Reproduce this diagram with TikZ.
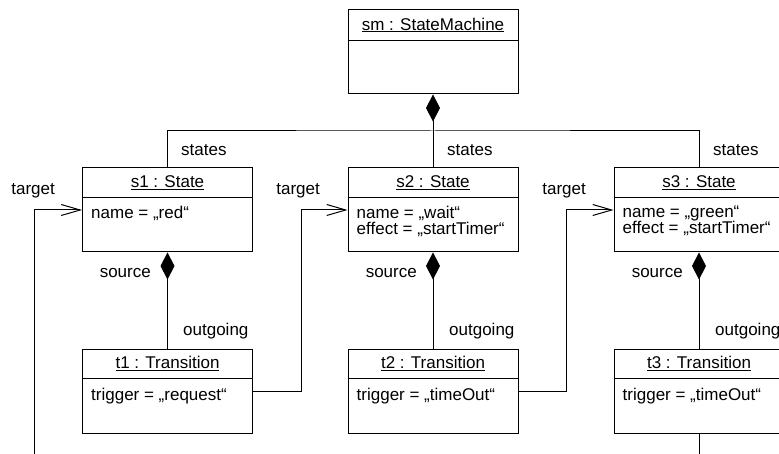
\documentclass[tikz,border=0pt]{standalone}
\usepackage{fontspec}
\setmainfont{Liberation Sans}
\usetikzlibrary{arrows.meta,calc}
\tikzset{
  objbox/.style={draw, line width=1pt, minimum width=170pt, minimum height=84pt, inner sep=0pt},
  lbl/.style={inner sep=0pt, font=\fontsize{17}{17}\selectfont},
  ttl/.style={inner sep=0pt, font=\fontsize{17}{17}\selectfont},
  attr/.style={inner sep=0pt, anchor=north west, align=left, font=\fontsize{17}{16.5}\selectfont},
  conn/.style={line width=1pt},
  comp/.style={line width=1pt, {Diamond[length=27pt,width=14pt]}-},
  nav/.style={line width=1pt, -{Straight Barb[length=19pt,width=11pt,line width=1pt]}}
}
\newcommand{\objhead}[3]{%
  \draw[line width=1pt] ($(#1.north west)+(0,#2)$) -- ($(#1.north east)+(0,#2)$);
  \node[ttl] (#1t) at ($(#1.north)+(0,#2/2)$) {\underline{#3}};
}
\begin{document}
\begin{tikzpicture}[x=1pt,y=-1pt]
\useasboundingbox (0,0) rectangle (779,454);
% objects
\node[objbox] (sm) at (433,52) {};
\objhead{sm}{31}{sm : StateMachine}
\node[objbox] (s1) at (167.5,210) {};
\objhead{s1}{30}{s1 : State}
\node[objbox] (s2) at (433,210) {};
\objhead{s2}{30}{s2 : State}
\node[objbox] (s3) at (699,210) {};
\objhead{s3}{30}{s3 : State}
\node[objbox] (t1) at (167.5,391) {};
\objhead{t1}{30}{t1 : Transition}
\node[objbox] (t2) at (433,391) {};
\objhead{t2}{30}{t2 : Transition}
\node[objbox] (t3) at (699,391) {};
\objhead{t3}{30}{t3 : Transition}
% attributes
\node[attr] (s1a) at ($(s1.north west)+(9,38)$) {name = „red“};
\node[attr] (s2a) at ($(s2.north west)+(9,38)$) {name = „wait“\\effect = „startTimer“};
\node[attr] (s3a) at ($(s3.north west)+(9,38)$) {name = „green“\\effect = „startTimer“};
\node[attr] (t1a) at ($(t1.north west)+(9,39)$) {trigger = „request“};
\node[attr] (t2a) at ($(t2.north west)+(9,39)$) {trigger = „timeOut“};
\node[attr] (t3a) at ($(t3.north west)+(9,39)$) {trigger = „timeOut“};
% states composition
\coordinate (bus) at (433,131);
\draw[comp] (sm.south) -- (bus);
\draw[conn] (s1.north) |- (bus) -| (s3.north);
\draw[conn] (bus) -- (s2.north);
\node[lbl,anchor=west] (st1) at (181,150) {states};
\node[lbl,anchor=west] (st2) at (447,150) {states};
\node[lbl,anchor=west] (st3) at (713,150) {states};
% outgoing compositions
\draw[comp] (s1.south) -- (t1.north);
\draw[comp] (s2.south) -- (t2.north);
\draw[comp] (s3.south) -- (t3.north);
\node[lbl,anchor=east] (so1) at (151,273) {source};
\node[lbl,anchor=east] (so2) at (417,273) {source};
\node[lbl,anchor=east] (so3) at (683,273) {source};
\node[lbl,anchor=west] (og1) at (183,331) {outgoing};
\node[lbl,anchor=west] (og2) at (449,331) {outgoing};
\node[lbl,anchor=west] (og3) at (715,331) {outgoing};
% target navigation
\coordinate (b1) at (34,454);
\coordinate (b3) at (699,454);
\draw[conn] (t3.south) -- (b3);
\draw[nav] (b1) |- (s1.west);
\draw[nav] (t1.east) -- ++(48,0) |- (s2.west);
\draw[nav] (t2.east) -- ++(48,0) |- (s3.west);
\node[lbl,anchor=east] (tg1) at (55,191) {target};
\node[lbl,anchor=east] (tg2) at (320,191) {target};
\node[lbl,anchor=east] (tg3) at (586,191) {target};
\end{tikzpicture}
\end{document}
